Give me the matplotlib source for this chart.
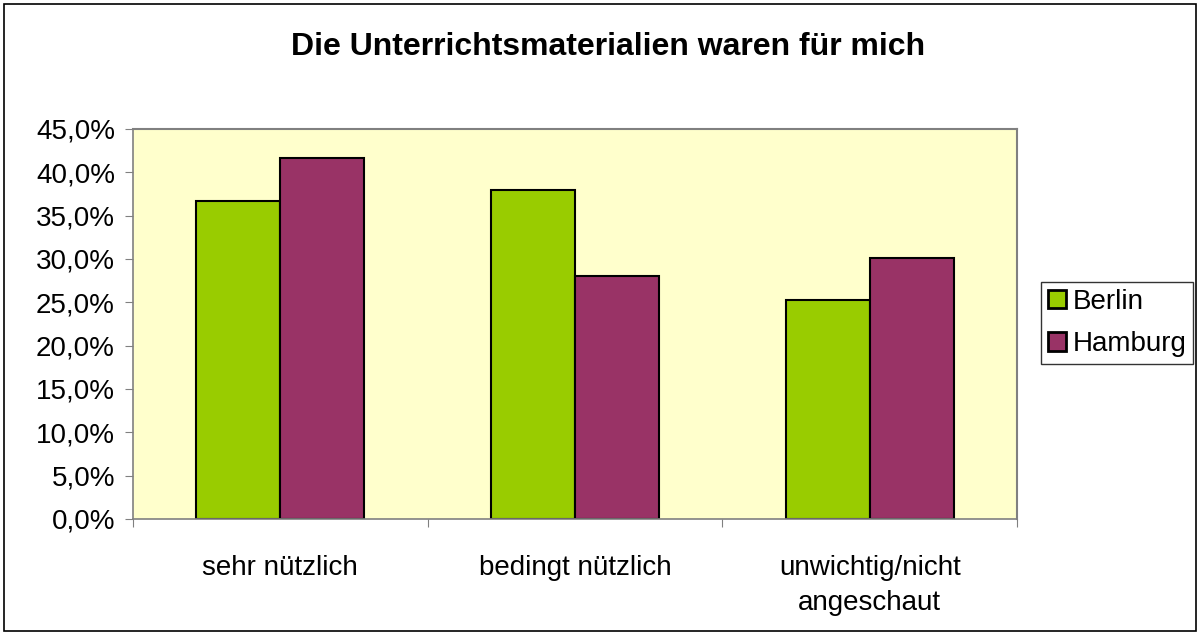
import matplotlib
matplotlib.use("Agg")
from matplotlib import pyplot as plt
from matplotlib.patches import Rectangle
from matplotlib.ticker import FuncFormatter, FixedLocator
import numpy as np

categories = ["sehr nützlich", "bedingt nützlich", "unwichtig/nicht\nangeschaut"]
berlin = [36.7, 38.0, 25.3]
hamburg = [41.7, 28.0, 30.1]
series_names = ["Berlin", "Hamburg"]
berlin_color = "#99CC00"
hamburg_color = "#993366"

plt.rcParams["font.family"] = ["Liberation Sans", "DejaVu Sans"]

fig = plt.figure(figsize=(12, 6.35), dpi=100)
fig.patches.append(Rectangle((4 / 1200, 4 / 635), 1192 / 1200, 627 / 635,
                             transform=fig.transFigure, fill=False,
                             edgecolor="black", linewidth=1.2))

ax = fig.add_axes([133 / 1200, 1 - 519 / 635, 884 / 1200, 390 / 635])
ax.set_facecolor("#FFFFCC")

x = np.arange(len(categories))
w = 0.285
ax.bar(x - w / 2, berlin, w, color=berlin_color, edgecolor="black", linewidth=1.5, label=series_names[0])
ax.bar(x + w / 2, hamburg, w, color=hamburg_color, edgecolor="black", linewidth=1.5, label=series_names[1])

ax.set_xlim(-0.5, len(categories) - 0.5)
ax.set_ylim(0, 45)
ax.set_yticks(np.arange(0, 46, 5))
ax.yaxis.set_major_formatter(FuncFormatter(lambda v, p: f"{v:.1f}%".replace(".", ",")))

# category labels sit between the boundary ticks
ax.xaxis.set_major_locator(FixedLocator(np.arange(-0.5, len(categories), 1.0)))
ax.xaxis.set_major_formatter(FuncFormatter(lambda v, p: ""))
ax.xaxis.set_minor_locator(FixedLocator(x))
ax.set_xticklabels(categories, minor=True, linespacing=1.45)
ax.tick_params(axis="x", which="minor", length=0, pad=26, labelsize=20)
ax.tick_params(axis="x", which="major", length=6, color="#808080", direction="out")
ax.tick_params(axis="y", length=6, color="#808080", labelsize=20, pad=7)

for side in ["top", "right"]:
    ax.spines[side].set_color("#808080")
    ax.spines[side].set_linewidth(1.5)
for side in ["left", "bottom"]:
    ax.spines[side].set_color("#808080")
    ax.spines[side].set_linewidth(1.2)

fig.text(608 / 1200, 1 - 47 / 635, "Die Unterrichtsmaterialien waren für mich",
         ha="center", va="center", fontsize=23, fontweight="bold")

leg = fig.legend(loc="center", bbox_to_anchor=(1117 / 1200, 1 - 323 / 635),
                 fontsize=20, frameon=True, fancybox=False, edgecolor="black",
                 handlelength=0.65, handleheight=0.65, handletextpad=0.25,
                 borderpad=0.25, labelspacing=0.6, borderaxespad=0)
leg.get_frame().set_linewidth(1.0)
for h in leg.legend_handles:
    h.set_linewidth(2.0)

fig.savefig("out.png", dpi=100)
